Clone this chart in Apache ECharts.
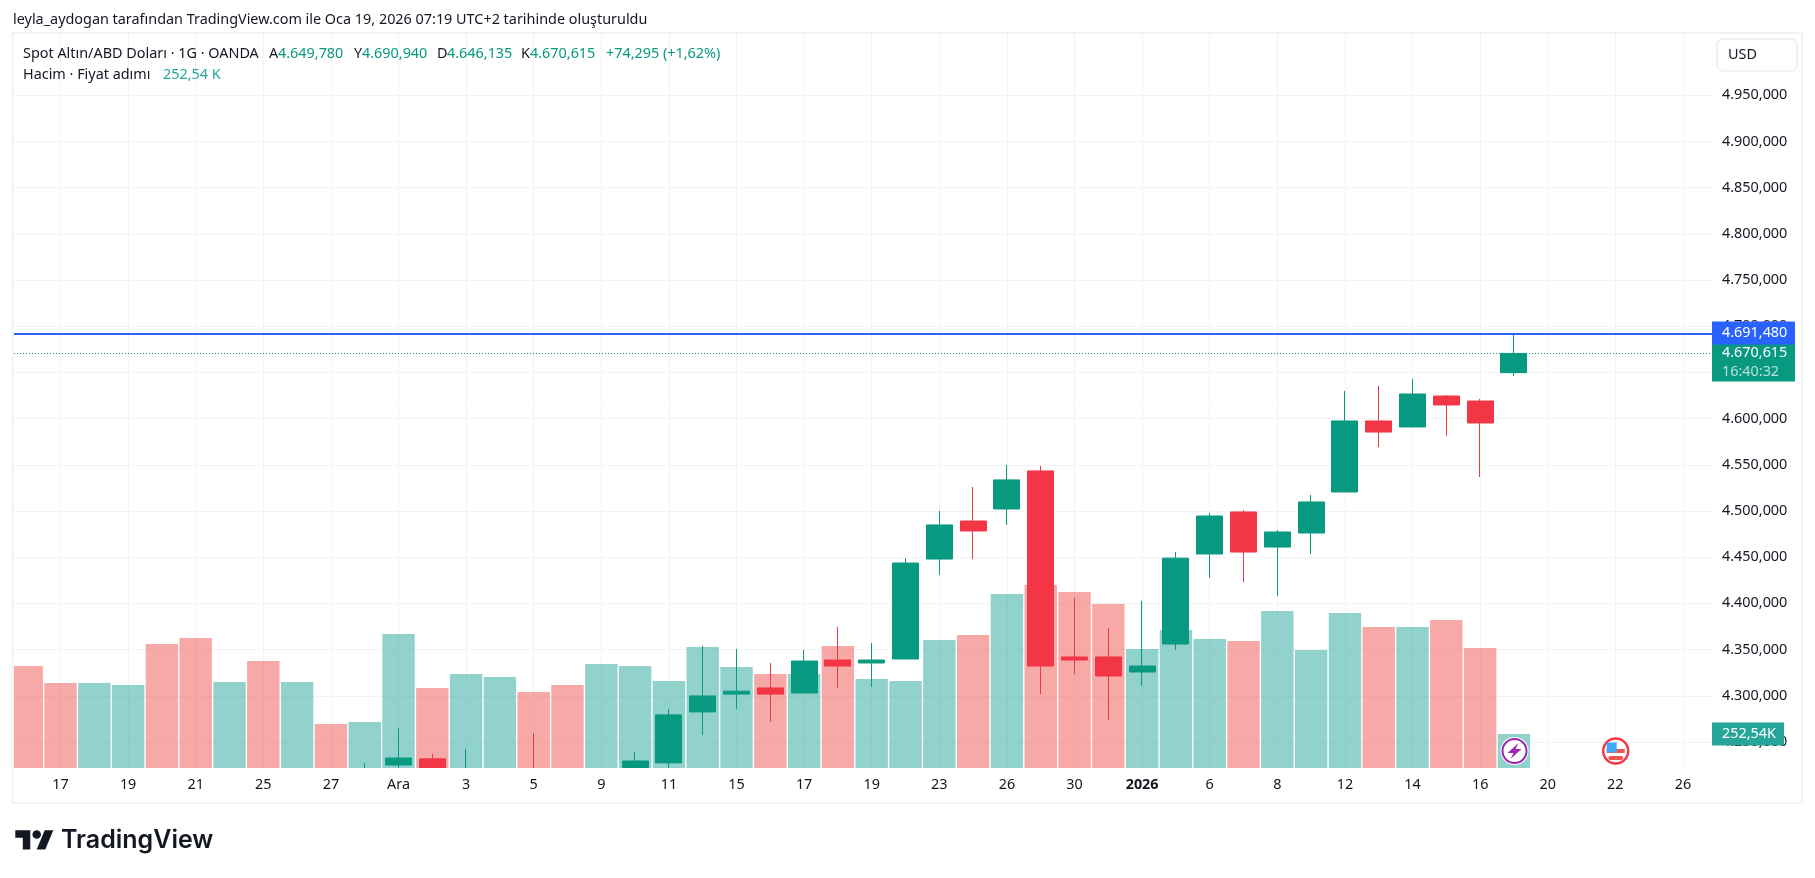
<!DOCTYPE html>
<html><head><meta charset="utf-8">
<style>html,body{margin:0;padding:0;background:#fff}#c{width:1815px;height:878px}</style>
<script src="https://cdn.jsdelivr.net/npm/echarts@6/dist/echarts.min.js"></script>
</head><body><div id="c"></div>
<script>
// categories: trading days (index = position on the time axis)
const days = ['14','17','18','19','20','21','24','25','26','27','28','Ara','2','3','4','5','8','9','10','11','12','15','16','17','18','19','22','23','24','26','29','30','31','2026','5','6','7','8','9','12','13','14','15','16','19','20','21','22','23','26'];
const labelledDays = [1,3,5,7,9,11,13,15,17,19,21,23,25,27,29,31,33,35,37,39,41,43,45,47,49];
// [index, open, close, low, high]
const candles = [
 [10,4160,4218,4155,4227],
 [11,4225,4232.6,4212,4265.1],
 [12,4231.7,4205,4190,4237],
 [13,4190,4205,4170,4242.4],
 [15,4210,4197,4190,4259.7],
 [18,4205,4229.4,4195,4239],
 [19,4227.3,4279.3,4210,4285.7],
 [20,4282.5,4299.8,4257.6,4354],
 [21,4301.8,4305,4285.7,4350.7],
 [22,4308.5,4301.8,4271.6,4335.5],
 [23,4303,4337.6,4303,4349.6],
 [24,4338.7,4332.2,4308.5,4374.5],
 [25,4335.5,4338.7,4309.5,4357.1],
 [26,4339.8,4443.7,4339.8,4449],
 [27,4448,4484.9,4430.8,4500],
 [28,4489.2,4478.4,4448,4526],
 [29,4502.2,4533.7,4485,4549.8],
 [30,4543.4,4332.2,4301.8,4548.8],
 [31,4342,4338.7,4323.6,4405.9],
 [32,4342,4321.4,4273.8,4373.4],
 [33,4325.7,4332.2,4310.6,4402.6],
 [34,4356,4449,4349.6,4455.6],
 [35,4453.5,4494.6,4427.5,4497.9],
 [36,4499,4455.6,4423.2,4501.1],
 [37,4461,4477.3,4408,4479.5],
 [38,4476.2,4509.8,4453.5,4517.4],
 [39,4520.6,4597.5,4520.6,4630],
 [40,4597.5,4585.5,4569,4635.4],
 [41,4591,4626.7,4591,4643],
 [42,4624.5,4614.8,4581.2,4625.6],
 [43,4619.1,4595.3,4536.8,4621.3],
 [44,4649.78,4670.615,4646.135,4690.94]
];
// volume in thousands, and whether the day closed up (1) or down (0)
const volume = [758,632,632,617,921,966,639,795,639,327,342,996,594,698,676,565,617,773,758,646,899,750,698,698,906,661,646,951,988,1293,1360,1308,1219,884,1025,958,944,1167,877,1152,1048,1048,1100,892,252.54];
const volumeUp = [0,0,1,1,0,0,1,0,1,0,1,1,0,1,1,0,0,1,1,1,1,1,0,1,0,1,1,1,0,1,0,0,0,1,1,1,0,1,1,1,0,1,0,0,1];
const priceTicks = [4250,4300,4350,4400,4450,4500,4550,4600,4650,4700,4750,4800,4850,4900,4950];
const alertPrice = 4691.48, lastPrice = 4670.615, lastVolume = 252.54, countdown = '16:40:32';

const UP='#089981', DOWN='#f23645', VUP='rgba(38,166,154,0.5)', VDOWN='rgba(239,83,80,0.5)';
const FONT='"Noto Sans"', INK='#131722', GRID='#f2f3f5', FS=14.4;
const fmtPrice = v => { const s=v.toFixed(3).replace('.',','); const i=s.length-7; return s.slice(0,i)+'.'+s.slice(i); };

const legendTop = [
 ['Spot Altın/ABD Doları · 1G · OANDA',23,INK],['A',269,INK],['4.649,780',278,UP],['Y',354,INK],['4.690,940',362,UP],
 ['D',437,INK],['4.646,135',447,UP],['K',521,INK],['4.670,615',530,UP],['+74,295 (+1,62%)',606,UP]
];
const txt=(t,x,y,fill,size)=>({type:'text',x,y,z:50,silent:true,style:{text:t,fill,font:`${size}px ${FONT}`,verticalAlign:'middle'}});

const chart = echarts.init(document.getElementById('c'),null,{renderer:'canvas'});
chart.setOption({
 animation:false, backgroundColor:'#fff',
 grid:{left:14,top:33,right:103,bottom:110,containLabel:false},
 xAxis:[
  {type:'value',min:-0.376,max:49.86,position:'bottom',
   axisLine:{show:false},
   axisTick:{show:false,customValues:labelledDays},
   splitLine:{show:true,lineStyle:{color:GRID,width:1}},
   axisLabel:{show:false}},
  {type:'value',min:-0.376,max:49.86,position:'bottom',z:30,
   axisLine:{show:false},
   axisTick:{show:false,customValues:labelledDays},
   splitLine:{show:false},
   axisLabel:{customValues:labelledDays,margin:10,color:INK,fontFamily:FONT,fontSize:FS,hideOverlap:false,
    formatter:v=>days[v]==='2026'?'{b|2026}':days[v],rich:{b:{fontWeight:'bold',fontFamily:FONT,fontSize:FS,color:INK}}}}],
 yAxis:[{type:'value',position:'right',min:4221.8,max:5017.5,
   axisLine:{show:false},
   axisTick:{show:false,customValues:priceTicks},
   splitLine:{show:true,lineStyle:{color:GRID,width:1}},
   axisLabel:{customValues:priceTicks,margin:10,color:INK,fontFamily:FONT,fontSize:FS,formatter:fmtPrice}},
  {type:'value',min:0,max:5461,show:false,splitLine:{show:false}}],
 series:[
  {type:'bar',name:'Hacim',yAxisIndex:1,barWidth:32.4,z:2,
   data:volume.map((v,i)=>({value:[i,v],itemStyle:{color:volumeUp[i]?VUP:VDOWN}})),
   markLine:{silent:true,symbol:'none',precision:3,lineStyle:{color:'rgba(0,0,0,0)',width:0},z:7,
    data:[{yAxis:lastVolume,label:{position:'end',distance:0,formatter:'252,54K',color:'#fff',backgroundColor:'#26a69a',
      fontFamily:FONT,fontSize:FS,width:62,align:'left',padding:[4,0,4,10],lineHeight:15}}]}},
  {type:'candlestick',name:'XAUUSD',z:3,barWidth:26.5,
   data:candles,
   itemStyle:{color:UP,color0:DOWN,borderColor:UP,borderColor0:DOWN,borderWidth:1},
   markLine:{silent:true,symbol:'none',precision:3,z:6,
    data:[
     {yAxis:lastPrice,lineStyle:{color:UP,type:[1,2],width:1},
      label:{position:'end',distance:0,formatter:'{p|'+fmtPrice(lastPrice)+'}\n{t|'+countdown+'}',backgroundColor:UP,width:73,align:'left',padding:[0,0,0,10],verticalAlign:'top',offset:[0,-10],
       rich:{p:{color:'#fff',fontFamily:FONT,fontSize:FS,lineHeight:19},t:{color:'#b5e0d8',fontFamily:FONT,fontSize:FS,lineHeight:19}}}},
     {yAxis:alertPrice,lineStyle:{color:'#2962ff',type:'solid',width:2},
      label:{position:'end',distance:0,formatter:fmtPrice(alertPrice),color:'#fff',backgroundColor:'#2962ff',
       fontFamily:FONT,fontSize:FS,width:73,align:'left',padding:[4,0,4,10],lineHeight:15,offset:[0,-1.2]}}
    ]}}
 ],
 graphic:[
  // hide what falls outside the pane
  {type:'rect',z:10,silent:true,shape:{x:13,y:768,width:1700,height:110},style:{fill:'#fff'}},
  {type:'rect',z:10,silent:true,shape:{x:0,y:34,width:14,height:734},style:{fill:'#fff'}},
  {type:'rect',z:40,silent:true,shape:{x:12.5,y:33,width:1789.5,height:770},style:{fill:'none',stroke:'#f2f3f5',lineWidth:2}},
  txt('leyla_aydogan tarafından TradingView.com ile Oca 19, 2026 07:19 UTC+2 tarihinde oluşturuldu',13,20,INK,FS),
  ...legendTop.map(p=>txt(p[0],p[1],54,p[2],FS)),
  txt('Hacim · Fiyat adımı',23,75,INK,FS),
  txt('252,54 K',163,75,'#26a69a',FS),
  {type:'rect',z:45,silent:true,shape:{x:1717,y:39,width:80,height:32,r:6},style:{fill:'#fff',stroke:'#e0e3eb',lineWidth:1}},
  txt('USD',1728,55,INK,FS),
  {type:'group',x:1514.5,y:751,silent:true,children:[
   {type:'circle',z:45,shape:{r:14},style:{fill:'#fff'}},
   {type:'circle',z:46,shape:{r:12},style:{fill:'#fff',stroke:'#9c27b0',lineWidth:2}},
   {type:'polygon',z:47,shape:{points:[[4,-8],[-7,2],[-1,2],[-4,8],[7,-2],[1,-2]]},style:{fill:'#9c27b0'}}]},
  {type:'group',x:1615.7,y:751,silent:true,children:[
   {type:'circle',z:45,shape:{r:12.5},style:{fill:'#fff',stroke:'#f23645',lineWidth:2.4}},
   {type:'rect',z:46,shape:{x:-9,y:-2,width:18,height:4},style:{fill:'#ef5350'}},
   {type:'rect',z:46,shape:{x:-7.5,y:5,width:15,height:4,r:2},style:{fill:'#ef5350'}},
   {type:'rect',z:47,shape:{x:-9,y:-8.5,width:10,height:10},style:{fill:'#42a5f5'}}]},
  {type:'group',x:15.3,y:826,silent:true,scaleX:1.07,scaleY:1.07,children:[
   {type:'polygon',z:45,shape:{points:[[14,22],[7,22],[7,11],[0,11],[0,4],[14,4]]},style:{fill:INK}},
   {type:'polygon',z:45,shape:{points:[[28,22],[20,22],[27.5,4],[35.5,4]]},style:{fill:INK}},
   {type:'circle',z:45,shape:{cx:20,cy:8,r:4},style:{fill:INK}}]},
  {type:'text',x:61,y:840,z:45,silent:true,style:{text:'TradingView',fill:INK,font:'600 25px "Inter"',verticalAlign:'middle'}}
 ]
});
</script></body></html>
